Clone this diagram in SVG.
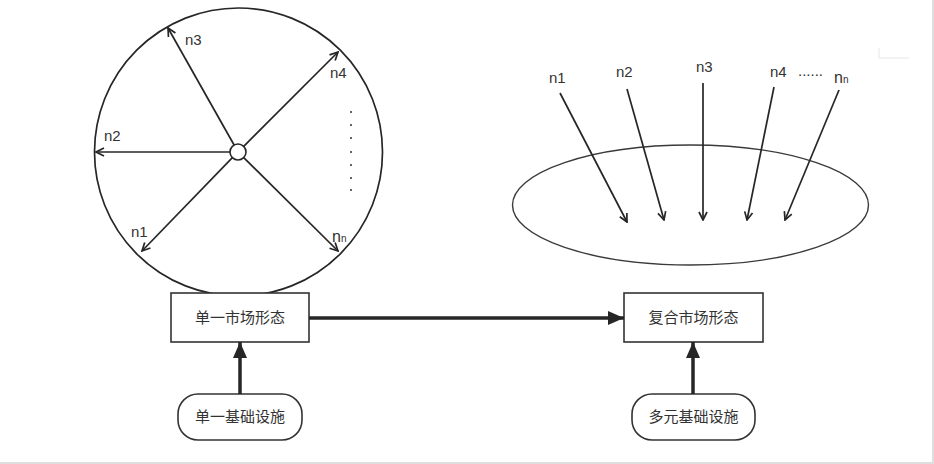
<svg xmlns="http://www.w3.org/2000/svg" width="934" height="464" viewBox="0 0 934 464">
<style>
  .lbl{font-family:"Liberation Sans","Noto Sans",sans-serif;font-size:15px;fill:#333}
  .sub{font-family:"Liberation Sans","Noto Sans",sans-serif;font-size:10px;fill:#333}
  .cjk{font-family:"Noto Sans CJK SC","Liberation Sans",sans-serif;font-size:15px;fill:#333;text-anchor:middle}
  .thin{stroke:#262626;stroke-width:1.7;fill:none;marker-end:url(#open)}
  .thick{stroke:#262626;stroke-width:3.5;fill:none;marker-end:url(#solid)}
  .box{fill:#fff;stroke:#333;stroke-width:1.6}
</style>
<defs>
  <marker id="open" viewBox="0 0 10 10" refX="9" refY="5" markerWidth="10" markerHeight="10" markerUnits="userSpaceOnUse" orient="auto">
    <path d="M1,1 L9,5 L1,9" fill="none" stroke="#262626" stroke-width="1.7"/>
  </marker>
  <marker id="solid" viewBox="0 0 16 14" refX="16" refY="7" markerWidth="16" markerHeight="14" markerUnits="userSpaceOnUse" orient="auto">
    <path d="M0,0 L16,7 L0,14 z" fill="#262626"/>
  </marker>
</defs>
<rect width="934" height="464" fill="#fff"/>
<rect x="932" y="0" width="2" height="464" fill="#dedede"/>
<rect x="0" y="462" width="934" height="2" fill="#dedede"/>
<polyline points="879,48 879,58 909,58" fill="none" stroke="#e6e6e6" stroke-width="1"/>

<g id="single-market-circle">
  <circle cx="238.5" cy="152" r="144" fill="none" stroke="#262626" stroke-width="1.7"/>
  <circle cx="238" cy="152" r="8" fill="#fff" stroke="#262626" stroke-width="1.6"/>
  <text class="lbl" x="185" y="45">n3</text>
  <text class="lbl" x="330" y="78">n4</text>
  <text class="lbl" x="104" y="141">n2</text>
  <text class="lbl" x="131" y="237">n1</text>
  <text class="lbl" x="332" y="242" style="font-size:16px">n<tspan class="sub" style="font-size:10px">n</tspan></text>
  <g fill="#333">
    <circle cx="351" cy="112" r="1"/>
    <circle cx="351" cy="125" r="1"/>
    <circle cx="351" cy="138" r="1"/>
    <circle cx="351" cy="152" r="1"/>
    <circle cx="351" cy="165" r="1"/>
    <circle cx="351" cy="178" r="1"/>
    <circle cx="351" cy="190" r="1"/>
  </g>
</g>

<g id="composite-market-ellipse">
  <ellipse cx="690.5" cy="205" rx="178" ry="60" fill="none" stroke="#3a3a3a" stroke-width="1.4"/>
  <text class="lbl" x="549" y="83">n1</text>
  <text class="lbl" x="616" y="77">n2</text>
  <text class="lbl" x="696" y="72">n3</text>
  <text class="lbl" x="770" y="77">n4</text>
  <text class="lbl" x="798" y="76">......</text>
  <text class="lbl" x="834" y="83" style="font-size:16px">n<tspan class="sub" style="font-size:10px">n</tspan></text>
</g>

<g id="node-single-market">
  <rect class="box" x="171" y="293" width="138" height="49"/>
  <text class="cjk" x="240" y="323">单一市场形态</text>
</g>
<g id="node-composite-market">
  <rect class="box" x="624" y="293" width="139" height="49"/>
  <text class="cjk" x="693.5" y="323">复合市场形态</text>
</g>
<g id="node-single-infra">
  <rect class="box" x="178" y="394" width="124" height="46" rx="20" ry="20"/>
  <text class="cjk" x="240" y="422">单一基础设施</text>
</g>
<g id="node-multi-infra">
  <rect class="box" x="632" y="394" width="123" height="46" rx="20" ry="20"/>
  <text class="cjk" x="693.5" y="422">多元基础设施</text>
</g>

<g id="connectors">
  <line class="thin" x1="234.1" y1="145" x2="168" y2="28"/>
  <line class="thin" x1="243.7" y1="146.3" x2="338" y2="52"/>
  <line class="thin" x1="230" y1="152" x2="96" y2="152"/>
  <line class="thin" x1="232.4" y1="157.7" x2="142" y2="251"/>
  <line class="thin" x1="243.7" y1="157.6" x2="338" y2="251"/>

  <line class="thin" x1="560" y1="93" x2="627" y2="222"/>
  <line class="thin" x1="627" y1="89" x2="664" y2="220"/>
  <line class="thin" x1="703" y1="83" x2="703" y2="220"/>
  <line class="thin" x1="774" y1="87" x2="747" y2="220"/>
  <line class="thin" x1="839" y1="90" x2="785" y2="220"/>

  <line class="thick" x1="309" y1="318" x2="624" y2="318"/>
  <line class="thick" x1="240" y1="394" x2="240" y2="342"/>
  <line class="thick" x1="693" y1="394" x2="693" y2="342"/>
</g>
</svg>
